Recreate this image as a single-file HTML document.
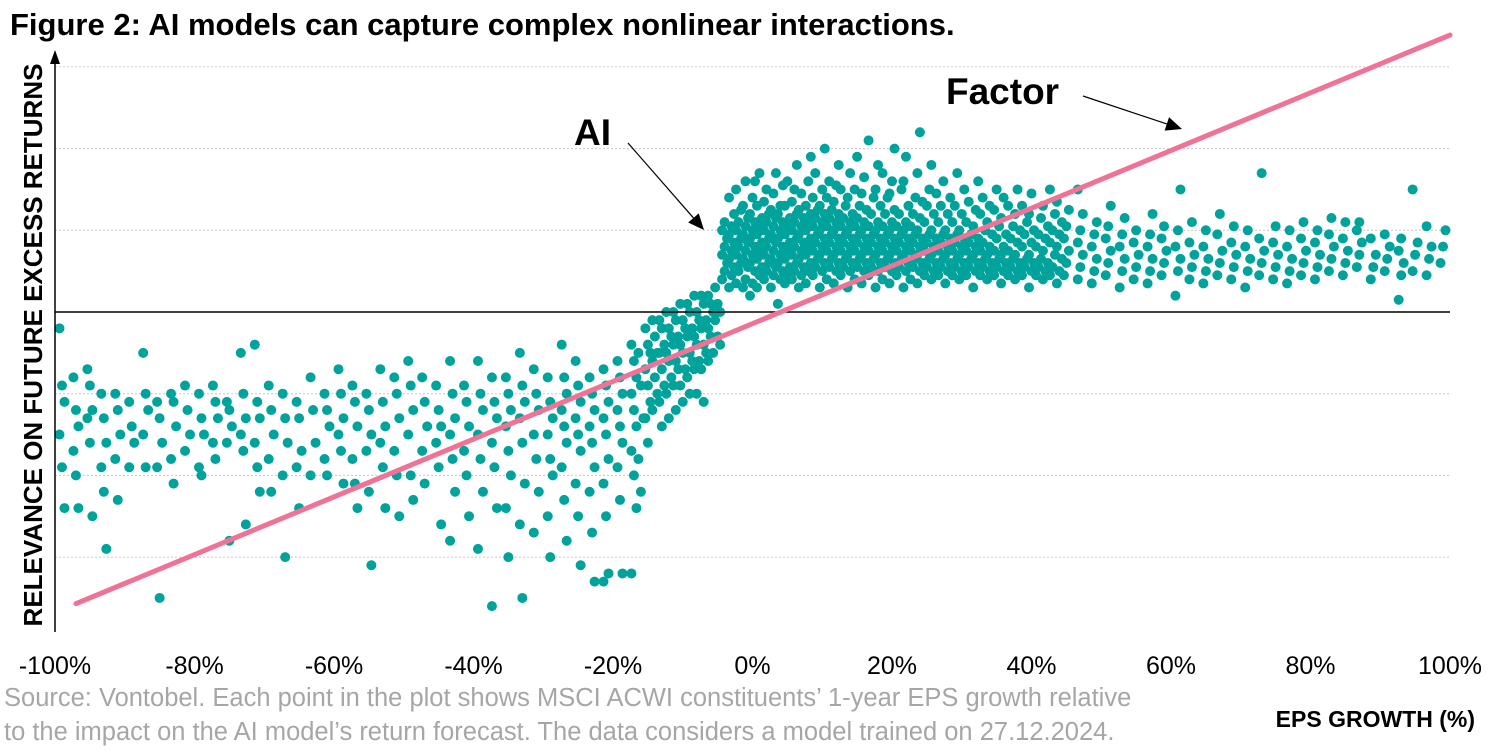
<!DOCTYPE html>
<html><head><meta charset="utf-8"><style>
body{margin:0;background:#fff;font-family:"Liberation Sans",Arial,sans-serif}
svg text{font-family:"Liberation Sans",Arial,sans-serif}
</style></head><body>
<svg id="chart" width="1500" height="750" viewBox="0 0 1500 750">
<text x="10" y="35" font-size="31" font-weight="bold" fill="#000">Figure 2: AI models can capture complex nonlinear interactions.</text>
<g id="grid"></g>
<g id="dots"></g>
<g id="lines"></g>
<g id="xt"></g>
<text transform="translate(42,345) rotate(-90)" text-anchor="middle" font-size="26" font-weight="bold">RELEVANCE ON FUTURE EXCESS RETURNS</text>
<text x="1475" y="727" text-anchor="end" font-size="23" font-weight="bold">EPS GROWTH (%)</text>
<text x="4" y="706" font-size="25.5" fill="#a6a6a6">Source: Vontobel. Each point in the plot shows MSCI ACWI constituents’ 1-year EPS growth relative</text>
<text x="4" y="740" font-size="25.5" fill="#a6a6a6">to the impact on the AI model’s return forecast. The data considers a model trained on 27.12.2024.</text>
<text x="574" y="145" font-size="37" font-weight="bold">AI</text>
<text x="946" y="104" font-size="37" font-weight="bold">Factor</text>
</svg>
<script>
const xTicks=[-100,-80,-60,-40,-20,0,20,40,60,80,100];
const yGrid=[3,2,1,-1,-2,-3];
const factorLine=[[-97,-3.57],[100,3.39]];
const cols=[
[-99,[-0.2,-0.9,-1.1,-1.5,-1.9,-2.4]],[-97,[-0.8,-1.2,-1.4,-1.7,-2.0,-2.4]],[-95,[-0.7,-0.9,-1.2,-1.3,-1.6,-2.5]],
[-93,[-1.0,-1.3,-1.6,-1.9,-2.2,-2.9]],[-91,[-1.0,-1.2,-1.5,-1.8,-2.3]],[-89,[-1.1,-1.4,-1.6,-1.9]],
[-87,[-0.5,-1.0,-1.2,-1.5,-1.9]],[-85,[-1.1,-1.3,-1.6,-1.9,-3.5]],[-83,[-1.0,-1.1,-1.4,-1.8,-2.1]],
[-81,[-0.9,-1.2,-1.5,-1.7]],[-79,[-1.0,-1.3,-1.5,-1.9,-2.0]],[-77,[-0.9,-1.1,-1.3,-1.6,-1.8]],
[-75,[-1.1,-1.2,-1.4,-1.6,-2.8]],[-73,[-0.5,-1.0,-1.3,-1.5,-1.7,-2.6]],[-71,[-0.4,-1.1,-1.3,-1.6,-1.9,-2.2]],
[-69,[-0.9,-1.2,-1.5,-1.8,-2.2]],[-67,[-1.0,-1.3,-1.6,-2.0,-3.0]],[-65,[-1.1,-1.3,-1.7,-1.9,-2.4]],
[-63,[-0.8,-1.2,-1.6,-2.0]],[-61,[-1.0,-1.2,-1.4,-1.8,-2.0]],[-59,[-0.7,-1.0,-1.3,-1.5,-1.7,-2.1]],
[-57,[-0.9,-1.1,-1.4,-1.8,-2.1,-2.4]],[-55,[-1.0,-1.2,-1.5,-1.7,-2.2,-3.1]],[-53,[-0.7,-1.1,-1.4,-1.6,-1.9,-2.4]],
[-51,[-0.8,-1.0,-1.3,-1.7,-2.0,-2.5]],[-49,[-0.6,-0.9,-1.2,-1.5,-2.0,-2.3]],[-47,[-0.8,-1.1,-1.4,-1.7,-2.1]],
[-45,[-0.9,-1.2,-1.4,-1.6,-1.9,-2.6]],[-43,[-0.6,-1.0,-1.3,-1.5,-1.8,-2.2,-2.8]],[-41,[-0.9,-1.1,-1.4,-1.7,-2.0,-2.5]],
[-39,[-0.6,-1.0,-1.2,-1.5,-1.8,-2.2,-2.9]],[-37,[-0.8,-1.1,-1.3,-1.6,-1.9,-2.4,-3.6]],[-35,[-0.8,-1.0,-1.2,-1.4,-1.7,-2.0,-2.4,-3.0]],
[-33,[-0.5,-0.9,-1.1,-1.3,-1.6,-2.1,-2.6,-3.5]],[-31,[-0.7,-1.0,-1.2,-1.5,-1.8,-2.2,-2.7]],[-29,[-0.8,-1.1,-1.3,-1.5,-1.8,-2.0,-2.5,-3.0]],
[-27,[-0.4,-0.8,-1.0,-1.2,-1.4,-1.6,-1.9,-2.3,-2.8]],[-25,[-0.6,-0.9,-1.1,-1.3,-1.5,-1.7,-2.1,-2.5,-3.1]],
[-23,[-0.8,-1.0,-1.2,-1.4,-1.6,-1.9,-2.2,-2.7,-3.3]],[-21,[-0.7,-0.9,-1.1,-1.3,-1.5,-1.8,-2.1,-2.5,-3.2,-3.3]],
[-19,[-0.6,-0.8,-1.0,-1.2,-1.4,-1.6,-1.9,-2.3,-3.2]],[-17,[-0.4,-0.6,-0.8,-1.0,-1.2,-1.4,-1.7,-2.0,-2.4,-3.2]],
[-16,[-0.5,-0.9,-1.3,-1.8,-2.2]],[-15,[-0.2,-0.4,-0.5,-0.7,-0.9,-1.1,-1.3,-1.6]],[-14,[-0.1,-0.3,-0.5,-0.6,-0.8,-1.0,-1.2]],
[-13,[-0.1,-0.2,-0.4,-0.5,-0.7,-0.9,-1.1,-1.4]],[-12,[0.0,-0.2,-0.3,-0.5,-0.6,-0.8,-1.0,-1.3]],
[-11,[0.0,-0.1,-0.3,-0.4,-0.6,-0.7,-0.9,-1.2]],[-10,[0.1,-0.1,-0.2,-0.4,-0.5,-0.7,-0.9,-1.1]],
[-9,[0.1,0.0,-0.2,-0.3,-0.5,-0.6,-0.8,-1.0]],[-8,[0.2,0.0,-0.1,-0.3,-0.4,-0.6,-0.7,-1.0]],
[-7,[0.2,0.1,-0.1,-0.2,-0.4,-0.5,-0.7,-1.1]],[-6,[0.2,0.1,0.0,-0.2,-0.3,-0.5,-0.6]],[-5,[0.3,0.1,0.0,-0.1,-0.3,-0.4]],
[-4,[0.4,0.5,0.6,0.7,0.8,0.9,1.0,1.1]],[-3,[0.3,0.45,0.55,0.65,0.75,0.85,0.95,1.05,1.2,1.4]],
[-2,[0.35,0.5,0.6,0.7,0.8,0.9,1.0,1.1,1.25,1.5]],[-1,[0.3,0.4,0.55,0.65,0.75,0.85,0.95,1.05,1.15,1.3,1.6]],
[0,[0.2,0.35,0.5,0.6,0.7,0.8,0.9,1.0,1.1,1.2,1.4,1.6]],[1,[0.3,0.45,0.55,0.65,0.75,0.85,0.95,1.05,1.15,1.3,1.7]],
[2,[0.4,0.5,0.6,0.7,0.8,0.9,1.0,1.1,1.2,1.35,1.5]],[3,[0.3,0.45,0.55,0.65,0.75,0.85,0.95,1.05,1.15,1.25,1.45,1.7]],
[4,[0.1,0.4,0.5,0.6,0.7,0.8,0.9,1.0,1.1,1.2,1.3,1.55]],[5,[0.35,0.45,0.55,0.65,0.75,0.85,0.95,1.05,1.15,1.3,1.6]],
[6,[0.4,0.5,0.6,0.7,0.8,0.9,1.0,1.1,1.2,1.35,1.5,1.8]],[7,[0.3,0.45,0.55,0.65,0.75,0.85,0.95,1.05,1.15,1.25,1.45]],
[8,[0.35,0.5,0.6,0.7,0.8,0.9,1.0,1.1,1.2,1.3,1.6,1.9]],[9,[0.45,0.55,0.65,0.75,0.85,0.95,1.05,1.15,1.25,1.4,1.7]],
[10,[0.3,0.5,0.6,0.7,0.8,0.9,1.0,1.1,1.2,1.3,1.5,2.0]],[11,[0.4,0.55,0.65,0.75,0.85,0.95,1.05,1.15,1.25,1.4,1.6]],
[12,[0.35,0.5,0.6,0.7,0.8,0.9,1.0,1.1,1.2,1.35,1.55,1.8]],[13,[0.45,0.55,0.65,0.75,0.85,0.95,1.05,1.15,1.3,1.5]],
[14,[0.3,0.5,0.6,0.7,0.8,0.9,1.0,1.1,1.2,1.4,1.7]],[15,[0.4,0.55,0.65,0.75,0.85,0.95,1.05,1.15,1.3,1.5,1.9]],
[16,[0.35,0.5,0.6,0.7,0.8,0.9,1.0,1.1,1.25,1.45,1.65]],[17,[0.45,0.55,0.65,0.75,0.85,0.95,1.05,1.2,1.4,2.1]],
[18,[0.3,0.5,0.6,0.7,0.8,0.9,1.0,1.1,1.3,1.5,1.8]],[19,[0.4,0.55,0.65,0.75,0.85,0.95,1.05,1.2,1.4,1.7]],
[20,[0.35,0.5,0.6,0.7,0.8,0.9,1.0,1.1,1.25,1.45,1.6,2.0]],[21,[0.45,0.55,0.65,0.75,0.85,0.95,1.05,1.2,1.5]],
[22,[0.3,0.5,0.6,0.7,0.8,0.9,1.0,1.1,1.3,1.6,1.9]],[23,[0.4,0.55,0.65,0.75,0.85,0.95,1.05,1.2,1.4]],
[24,[0.35,0.5,0.6,0.7,0.8,0.9,1.0,1.15,1.35,1.7,2.2]],[25,[0.45,0.55,0.65,0.75,0.85,0.95,1.1,1.3,1.5]],
[26,[0.4,0.5,0.6,0.7,0.8,0.9,1.0,1.2,1.45,1.8]],[27,[0.45,0.55,0.65,0.75,0.85,0.95,1.1,1.3,1.6]],
[28,[0.35,0.5,0.6,0.7,0.8,0.9,1.0,1.2,1.4]],[29,[0.45,0.55,0.65,0.75,0.85,0.95,1.1,1.3,1.7]],
[30,[0.4,0.5,0.6,0.7,0.8,0.9,1.0,1.2,1.5]],[31,[0.45,0.55,0.65,0.75,0.85,0.95,1.1,1.35]],
[32,[0.3,0.5,0.6,0.7,0.8,0.9,1.05,1.25,1.6]],[33,[0.45,0.55,0.65,0.75,0.85,1.0,1.2,1.4]],
[34,[0.4,0.5,0.6,0.7,0.8,0.95,1.1,1.3]],[35,[0.45,0.55,0.65,0.75,0.9,1.05,1.25,1.5]],
[36,[0.35,0.5,0.6,0.7,0.8,0.95,1.15,1.4]],[37,[0.45,0.55,0.65,0.75,0.9,1.05,1.3]],
[38,[0.4,0.5,0.6,0.7,0.85,1.0,1.2,1.5]],[39,[0.45,0.55,0.65,0.8,0.95,1.1,1.3]],
[40,[0.3,0.5,0.6,0.7,0.85,1.0,1.2,1.45]],[41,[0.45,0.55,0.65,0.8,0.95,1.15]],
[42,[0.4,0.5,0.6,0.75,0.9,1.05,1.3]],[43,[0.45,0.55,0.7,0.85,1.0,1.2,1.5]],
[44,[0.35,0.5,0.65,0.8,0.95,1.1,1.35]],[45,[0.45,0.6,0.75,0.9,1.05,1.25]],
[47,[0.4,0.55,0.7,0.85,1.0,1.2,1.5]],[49,[0.35,0.5,0.65,0.8,0.95,1.1]],
[51,[0.45,0.6,0.75,0.9,1.05,1.3]],[53,[0.3,0.5,0.65,0.8,0.95,1.15]],
[55,[0.4,0.55,0.7,0.85,1.0]],[57,[0.35,0.5,0.65,0.8,0.95,1.2]],
[59,[0.45,0.6,0.75,0.9,1.05]],[61,[0.2,0.5,0.65,0.8,1.0,1.5]],
[63,[0.4,0.55,0.7,0.85,1.1]],[65,[0.35,0.5,0.65,0.8,1.0]],
[67,[0.45,0.6,0.75,0.95,1.2]],[69,[0.4,0.55,0.7,0.85,1.05]],
[71,[0.3,0.5,0.65,0.8,1.0]],[73,[0.45,0.6,0.75,0.9,1.7]],
[75,[0.4,0.55,0.7,0.85,1.05]],[77,[0.35,0.5,0.65,0.8,1.0]],
[79,[0.45,0.6,0.75,0.9,1.1]],[81,[0.4,0.55,0.7,0.85,1.0]],
[83,[0.5,0.65,0.8,0.95,1.15]],[85,[0.45,0.6,0.75,0.9,1.1]],
[87,[0.55,0.7,0.85,1.0,1.1]],[89,[0.4,0.55,0.7,0.9]],
[91,[0.5,0.65,0.8,0.95]],[93,[0.15,0.45,0.6,0.75,0.9]],
[95,[0.5,0.7,0.85,1.5]],[97,[0.45,0.65,0.8,1.05]],[99,[0.6,0.8,1.0]]
];
const NS='http://www.w3.org/2000/svg';
const X=v=>55+(v+100)/200*1395;
const Y=v=>312-v*81.7;
function mk(t,a,p){const e=document.createElementNS(NS,t);for(const k in a)e.setAttribute(k,a[k]);p.appendChild(e);return e;}
const grid=document.getElementById('grid'),dots=document.getElementById('dots'),lines=document.getElementById('lines'),xt=document.getElementById('xt');
yGrid.forEach(v=>{const l=mk('line',{x1:55,x2:1450,y1:Y(v),y2:Y(v),stroke:'#c8c8c8','stroke-width':1,'stroke-dasharray':'2,2'},grid);

});
cols.forEach(c=>c[1].forEach((v,i)=>{const d=mk('circle',{cx:X(c[0])+((i%3)-1)*2.5,cy:Y(v),r:5,fill:'#00a39b'},dots);

}));
const zl=mk('line',{x1:55,x2:1450,y1:Y(0),y2:Y(0),stroke:'#000','stroke-width':1.5},lines);


const ax=mk('line',{x1:55,x2:55,y1:60,y2:632,stroke:'#000','stroke-width':1.5},lines);


const ah=mk('path',{d:'M55,50 L50,64 L60,64 Z',fill:'#000'},lines);


const fl=mk('line',{x1:X(factorLine[0][0]),y1:Y(factorLine[0][1]),x2:X(factorLine[1][0]),y2:Y(factorLine[1][1]),stroke:'#f07396','stroke-width':5,'stroke-linecap':'round'},lines);


function arrow(x1,y1,x2,y2,name){const g=mk('g',{},lines);
const a=Math.atan2(y2-y1,x2-x1),L=16,W=7;
mk('line',{x1:x1,y1:y1,x2:x2-L*Math.cos(a),y2:y2-L*Math.sin(a),stroke:'#000','stroke-width':1.2},g);
const bx=x2-L*Math.cos(a),by=y2-L*Math.sin(a);
mk('path',{d:`M${x2},${y2} L${bx+W*Math.sin(a)},${by-W*Math.cos(a)} L${bx-W*Math.sin(a)},${by+W*Math.cos(a)} Z`,fill:'#000'},g);}
arrow(628,143,704,230,'ai-arrow');
arrow(1083,96,1182,129,'factor-arrow');
xTicks.forEach(v=>{const t=mk('text',{x:X(v),y:674,'text-anchor':'middle','font-size':25,fill:'#000'},xt);t.textContent=v+'%';

});
</script>
</body></html>
